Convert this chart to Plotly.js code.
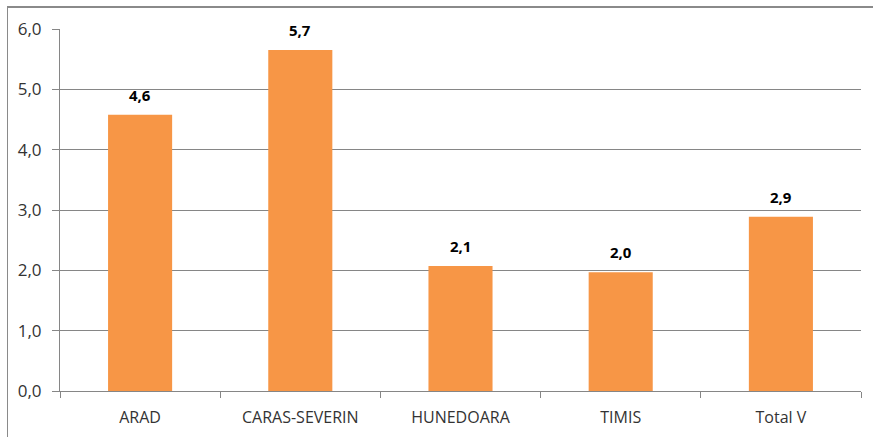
<!DOCTYPE html>
<html>
<head>
<meta charset="utf-8">
<script src="https://cdn.plot.ly/plotly-3.0.1.min.js"></script>
<style>
  html, body { margin: 0; padding: 0; background: #fff; }
  #wrap { position: relative; width: 873px; height: 437px; overflow: hidden; }
  #chart { position: absolute; left: 0; top: 0; width: 873px; height: 437px; }
  #frame { position: absolute; left: 7px; top: 6px; width: 900px; height: 500px;
           border-left: 1px solid #8a8a8a; border-top: 2px solid #8a8a8a; pointer-events: none; }
</style>
</head>
<body>
<div id="wrap">
  <div id="chart"></div>
  <div id="frame"></div>
</div>
<script>
const categories = ["ARAD", "CARAS-SEVERIN", "HUNEDOARA", "TIMIS", "Total V"];
const values = [4.58, 5.65, 2.07, 1.97, 2.89];
const valueLabels = ["4,6", "5,7", "2,1", "2,0", "2,9"];
const yTickValues = [0, 1, 2, 3, 4, 5, 6];
const yTickLabels = ["0,0", "1,0", "2,0", "3,0", "4,0", "5,0", "6,0"];

const FONT = "Open Sans, Liberation Sans, sans-serif";

const trace = {
  type: "bar",
  x: categories,
  y: values,
  marker: { color: "#F79646", line: { width: 0 } },
  hoverinfo: "skip"
};

const annotations = categories.map((c, i) => ({
  x: c,
  y: values[i],
  xref: "x",
  yref: "y",
  text: valueLabels[i],
  showarrow: false,
  yanchor: "bottom",
  yshift: 8,
  font: { family: FONT, size: 15, color: "#000", weight: "bold" }
}));

const layout = {
  width: 873,
  height: 437,
  margin: { l: 60, r: 12, t: 29, b: 46 },
  paper_bgcolor: "#fff",
  plot_bgcolor: "#fff",
  showlegend: false,
  bargap: 0.6,
  font: { family: FONT, size: 15, color: "#333" },
  annotations: annotations,
  xaxis: {
    type: "category",
    showline: true,
    linecolor: "#868686",
    linewidth: 1,
    ticks: "outside",
    tickson: "boundaries",
    ticklen: 6,
    tickcolor: "#868686",
    showgrid: false,
    tickfont: { family: FONT, size: 16, color: "#333" },
    ticklabelstandoff: 12,
    fixedrange: true
  },
  yaxis: {
    range: [0, 6],
    tickvals: yTickValues,
    ticktext: yTickLabels,
    showline: true,
    linecolor: "#868686",
    linewidth: 1,
    ticks: "outside",
    ticklen: 7,
    tickcolor: "#868686",
    showgrid: true,
    gridcolor: "#868686",
    gridwidth: 1,
    zeroline: false,
    tickfont: { family: FONT, size: 17, color: "#333" },
    ticklabelstandoff: 7,
    fixedrange: true
  }
};

Plotly.newPlot("chart", [trace], layout, { displayModeBar: false, staticPlot: true });
</script>
</body>
</html>
